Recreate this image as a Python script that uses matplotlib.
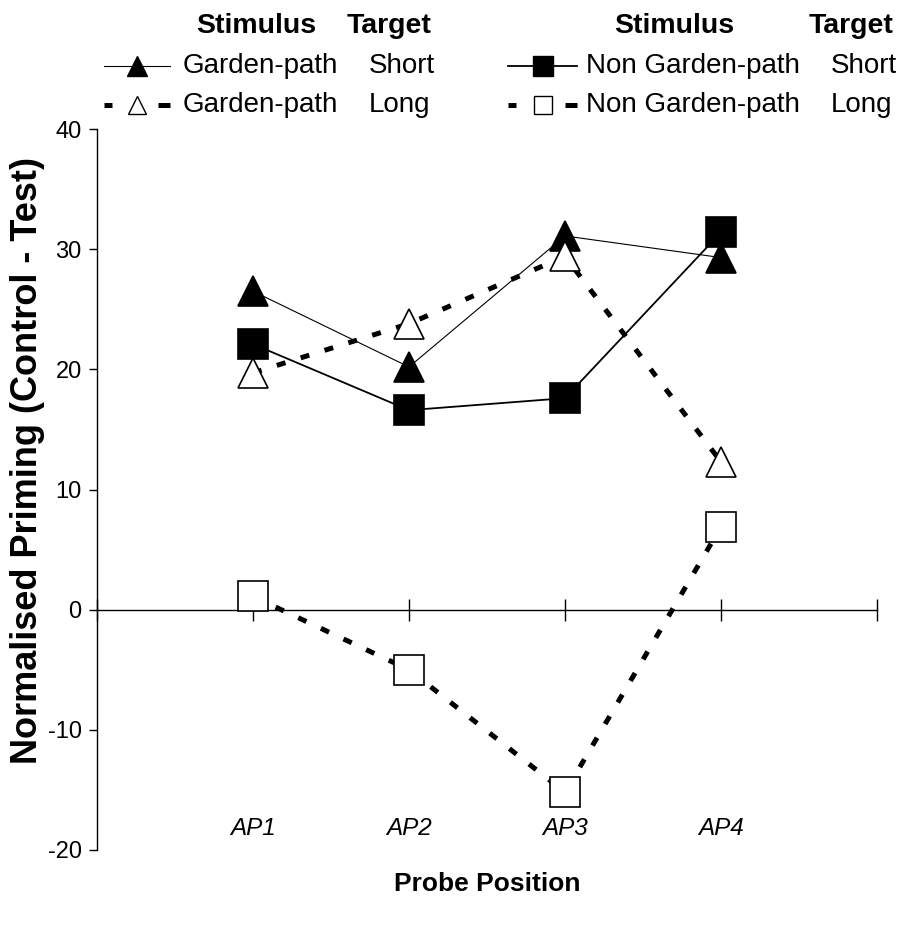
import numpy as np
import matplotlib.pyplot as plt
from matplotlib.lines import Line2D
from matplotlib.transforms import blended_transform_factory

plt.rcParams['font.family'] = ['Liberation Sans', 'DejaVu Sans']
plt.rcParams['lines.scale_dashes'] = False
plt.rcParams['axes.unicode_minus'] = False

positions = ['AP1', 'AP2', 'AP3', 'AP4']

gp_short = [26.5, 20.2, 31.1, 29.3]
gp_long = [19.7, 23.8, 29.4, 12.3]
ngp_short = [22.1, 16.6, 17.6, 31.4]
ngp_long = [1.1, -5.0, -15.2, 6.9]

stimulus = ['Garden-path', 'Garden-path', 'Non Garden-path', 'Non Garden-path']
target = ['Short', 'Long', 'Short', 'Long']

W, H = 908, 931
fig = plt.figure(figsize=(W / 100, H / 100), dpi=100)
ax = fig.add_axes([97 / W, 1 - 850 / H, 780 / W, 721 / H])

x = np.arange(1, len(positions) + 1)
dash = (0, (6.5, 11.5))

styles = [
    dict(marker='^', color='black', lw=0.8, ls='-', mfc='black', mec='black'),
    dict(marker='^', color='black', lw=3.6, ls=dash, mfc='white', mec='black'),
    dict(marker='s', color='black', lw=1.3, ls='-', mfc='black', mec='black'),
    dict(marker='s', color='black', lw=3.6, ls=dash, mfc='white', mec='black'),
]
series = [gp_short, gp_long, ngp_short, ngp_long]

for vals, st in zip(series, styles):
    ax.plot(x, vals, ms=22, mew=1.2, dash_capstyle='butt', solid_capstyle='butt',
            zorder=3, **st)

ax.set_xlim(0, 5)
ax.set_ylim(-20, 40)
ax.set_yticks(np.arange(-20, 41, 10))
ax.tick_params(axis='y', direction='out', length=6, width=1, labelsize=17, pad=5)
ax.set_xticks(np.arange(0, 6))
ax.tick_params(axis='x', direction='inout', length=16, width=1, labelbottom=False)

for s in ['top', 'right']:
    ax.spines[s].set_visible(False)
ax.spines['bottom'].set_position(('data', 0))
ax.spines['bottom'].set_zorder(1)
ax.spines['left'].set_linewidth(1.0)
ax.spines['bottom'].set_linewidth(1.0)

# category names sit near the bottom of the plot, not on the zero line
trans = blended_transform_factory(ax.transData, ax.transAxes)
for xi, name in zip(x, positions):
    ax.text(xi, 0.03, name, transform=trans, ha='center', va='center',
            fontsize=17.5, style='italic')


def fx(px):
    return px / W


def fy(py):
    return 1 - py / H


fig.text(fx(487), fy(884), 'Probe Position', ha='center', va='center',
         fontsize=19, fontweight='bold')
fig.text(fx(28), fy(460), 'Normalised Priming (Control - Test)', ha='center',
         va='center', rotation=90, fontsize=26, fontweight='bold')

# legend drawn by hand: two blocks with Stimulus / Target columns
blocks = [
    dict(line=(104, 170), stim=183, targ=369, head_s=256, head_t=389),
    dict(line=(508, 577), stim=586, targ=831, head_s=674, head_t=851),
]
rows = [66, 105]
leg_ms = [14, 13, 14, 13]

for b, blk in enumerate(blocks):
    fig.text(fx(blk['head_s']), fy(26), 'Stimulus', ha='center', va='center',
             fontsize=20.5, fontweight='bold')
    fig.text(fx(blk['head_t']), fy(26), 'Target', ha='center', va='center',
             fontsize=20.5, fontweight='bold')
    x0, x1 = blk['line']
    xm = (x0 + x1) / 2
    for r in range(2):
        i = b * 2 + r
        st = styles[i]
        y = fy(rows[r])
        if r == 0:
            fig.add_artist(Line2D([fx(x0), fx(x1)], [y, y], color='black',
                                  lw=st['lw'], transform=fig.transFigure))
        else:
            for a, c in [(x0, x0 + 8), (x1 - 12, x1)]:
                fig.add_artist(Line2D([fx(a), fx(c)], [y, y], color='black',
                                      lw=3.6, solid_capstyle='butt',
                                      transform=fig.transFigure))
        fig.add_artist(Line2D([fx(xm)], [y], marker=st['marker'], ms=leg_ms[i],
                              mfc=st['mfc'], mec='black', mew=1.0, ls='none',
                              transform=fig.transFigure))
        fig.text(fx(blk['stim']), y, stimulus[i], ha='left', va='center',
                 fontsize=20)
        fig.text(fx(blk['targ']), y, target[i], ha='left', va='center',
                 fontsize=20)

fig.savefig('out.png', dpi=100)
